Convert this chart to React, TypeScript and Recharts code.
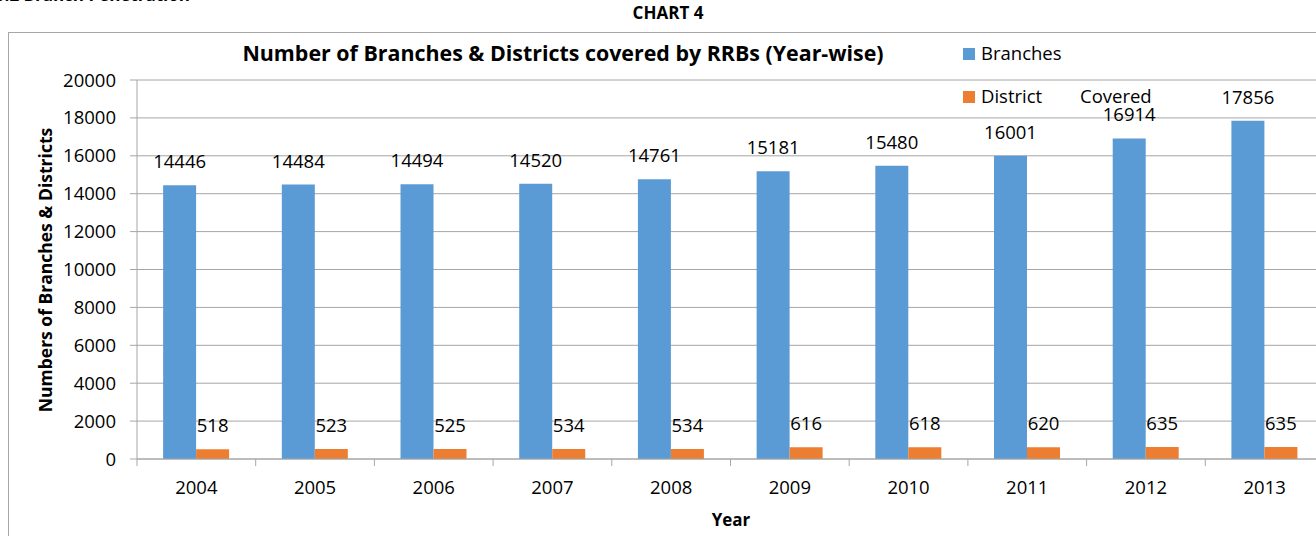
import { Bar, BarChart, CartesianGrid, LabelList, XAxis, YAxis } from "recharts";

const years = ["2004", "2005", "2006", "2007", "2008", "2009", "2010", "2011", "2012", "2013"];
const branches = [14446, 14484, 14494, 14520, 14761, 15181, 15480, 16001, 16914, 17856];
const districts = [518, 523, 525, 534, 534, 616, 618, 620, 635, 635];
const yTicks = [0, 2000, 4000, 6000, 8000, 10000, 12000, 14000, 16000, 18000, 20000];

const data = years.map((year, i) => ({ year, branches: branches[i], districts: districts[i] }));

const FONT = "'Open Sans', 'Noto Sans', sans-serif";
const BLUE = "#5B9BD5";
const ORANGE = "#ED7D31";
const GRID = "#A6A6A6";
const TICK_SIZE = 7;
const TICK_MARGIN = 15;

// Excel puts category tick marks between the groups, so draw them at the band edge
function YearTick(props: any) {
  const { x, y, payload } = props;
  const half = payload?.offset ?? 0;
  const axisY = y - TICK_SIZE - TICK_MARGIN;
  return (
    <g>
      <line x1={x - half} x2={x - half} y1={axisY} y2={axisY + TICK_SIZE} stroke={GRID} />
      <text x={x} y={y} dy="0.71em" textAnchor="middle" fontSize={18.5} fontFamily={FONT} fill="#000">
        {payload.value}
      </text>
    </g>
  );
}

const abs = (extra: React.CSSProperties): React.CSSProperties => ({
  position: "absolute",
  whiteSpace: "nowrap",
  lineHeight: 1,
  ...extra,
});

export default function App() {
  return (
    <div
      style={{
        position: "fixed",
        left: 0,
        top: 0,
        width: 1316,
        height: 536,
        overflow: "hidden",
        background: "#fff",
        fontFamily: FONT,
        color: "#000",
      }}
    >
      <div style={abs({ right: 1316 - 190, top: -14, fontSize: 17, fontWeight: 700 })}>
        3.2 Branch Penetration
      </div>
      <div style={abs({ left: 668, top: 13 - 9, fontSize: 17, fontWeight: 700, transform: "translateX(-50%)" })}>
        CHART 4
      </div>

      <div
        style={{
          position: "absolute",
          left: 8,
          top: 32,
          width: 1330,
          height: 600,
          border: `1px solid ${GRID}`,
        }}
      />

      <div style={{ position: "absolute", left: 0, top: 0 }}>
        <BarChart
          width={1330}
          height={600}
          data={data}
          margin={{ top: 80, right: 6, bottom: 81, left: 0 }}
          barCategoryGap="22%"
          barGap={0}
        >
          <CartesianGrid stroke={GRID} vertical={false} />
          <XAxis
            dataKey="year"
            height={60}
            stroke={GRID}
            tickLine={false}
            tickSize={TICK_SIZE}
            tickMargin={TICK_MARGIN}
            tick={<YearTick />}
            interval={0}
          />
          <YAxis
            width={137}
            domain={[0, 20000]}
            ticks={yTicks}
            interval={0}
            stroke={GRID}
            tickSize={TICK_SIZE}
            tickMargin={14}
            tick={{ fill: "#000", fontSize: 18.5, fontFamily: FONT }}
          />
          <Bar dataKey="branches" fill={BLUE} isAnimationActive={false}>
            <LabelList dataKey="branches" position="top" offset={17} fill="#000" fontSize={18.5} fontFamily={FONT} />
          </Bar>
          <Bar dataKey="districts" fill={ORANGE} isAnimationActive={false}>
            <LabelList dataKey="districts" position="top" offset={17} fill="#000" fontSize={18.5} fontFamily={FONT} />
          </Bar>
        </BarChart>
      </div>

      <div style={abs({ left: 563, top: 53 - 11, fontSize: 21.4, fontWeight: 700, transform: "translateX(-50%)" })}>
        Number of Branches &amp; Districts covered by RRBs (Year-wise)
      </div>

      <div style={{ position: "absolute", left: 963, top: 48, width: 12, height: 12, background: BLUE }} />
      <div style={abs({ left: 981, top: 54 - 10, fontSize: 18.5 })}>Branches</div>
      <div style={{ position: "absolute", left: 963, top: 91, width: 12, height: 12, background: ORANGE }} />
      <div style={abs({ left: 981, top: 97 - 10, fontSize: 18.5 })}>District</div>
      <div style={abs({ left: 1080, top: 97 - 10, fontSize: 18.5 })}>Covered</div>

      <div
        style={abs({
          left: 46,
          top: 270,
          fontSize: 17.5,
          fontWeight: 700,
          transform: "translate(-50%, -50%) rotate(-90deg)",
        })}
      >
        Numbers of Branches &amp; Districts
      </div>
      <div style={abs({ left: 731, top: 520 - 9, fontSize: 17, fontWeight: 700, transform: "translateX(-50%)" })}>
        Year
      </div>
    </div>
  );
}
